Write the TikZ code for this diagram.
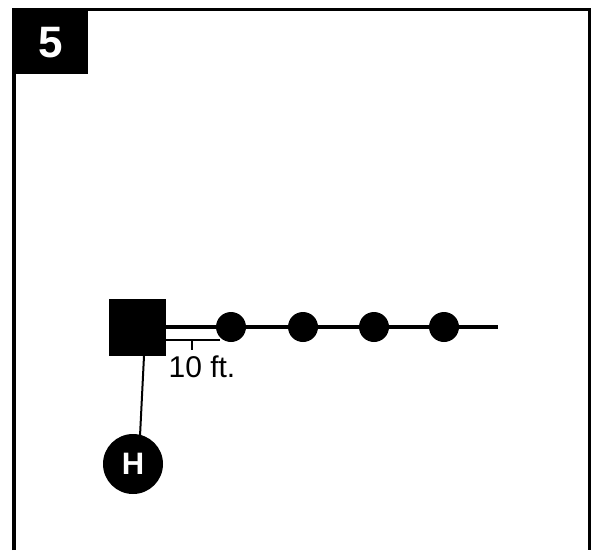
\documentclass[tikz,border=0pt]{standalone}
\usepackage{fontspec}
\setmainfont{Liberation Sans}
\tikzset{
  px/.style={x=1pt,y=-1pt},
  dot/.style={circle,fill=black,inner sep=0pt,minimum size=30pt},
  hub/.style={rectangle,fill=black,inner sep=0pt,minimum size=57pt},
  heater/.style={circle,fill=black,inner sep=0pt,minimum size=60pt,text=white,font=\bfseries\fontsize{31}{31}\selectfont},
  tag/.style={rectangle,fill=black,inner sep=0pt,minimum width=76pt,minimum height=66pt},
  tagtext/.style={inner sep=0pt,text=white,font=\bfseries\fontsize{44}{44}\selectfont},
  frameline/.style={line width=3.5pt,line cap=butt},
  mainline/.style={line width=4pt},
  thinline/.style={line width=2pt}
}
\begin{document}
\begin{tikzpicture}[px]
\useasboundingbox (0,0) rectangle (592,550);
\coordinate (fbl) at (14,550);
\coordinate (ftl) at (14,9.5);
\coordinate (ftr) at (589.5,9.5);
\coordinate (fbr) at (589.5,550);
\draw[frameline] (fbl) -- (ftl) -- (ftr) -- (fbr);
\node[tag] (t) at (50,41) {};
\node[tagtext] (tl) at (51,43) {5};
\node[hub] (s) at (137.5,327.5) {};
\coordinate (e) at (498,327);
\draw[mainline] (s.east |- e) -- (e);
\node[dot] (d1) at (231,327) {};
\node[dot] (d2) at (303,327) {};
\node[dot] (d3) at (374,327) {};
\node[dot] (d4) at (444,327) {};
\coordinate (a) at (s.east |- 0,339.5);
\coordinate (b) at (220,339.5);
\coordinate (m) at (192,339.5);
\coordinate (mt) at (192,350);
\draw[thinline] (a) -- (b);
\draw[thinline] (m) -- (mt);
\node[inner sep=0pt,font=\fontsize{30}{30}\selectfont,anchor=center] (lab) at (202,367) {10 ft.};
\node[heater] (h) at (133,464) {H};
\coordinate (c1) at (144,356);
\coordinate (c2) at (140,436);
\draw[thinline] (c1) -- (c2);
\end{tikzpicture}
\end{document}
